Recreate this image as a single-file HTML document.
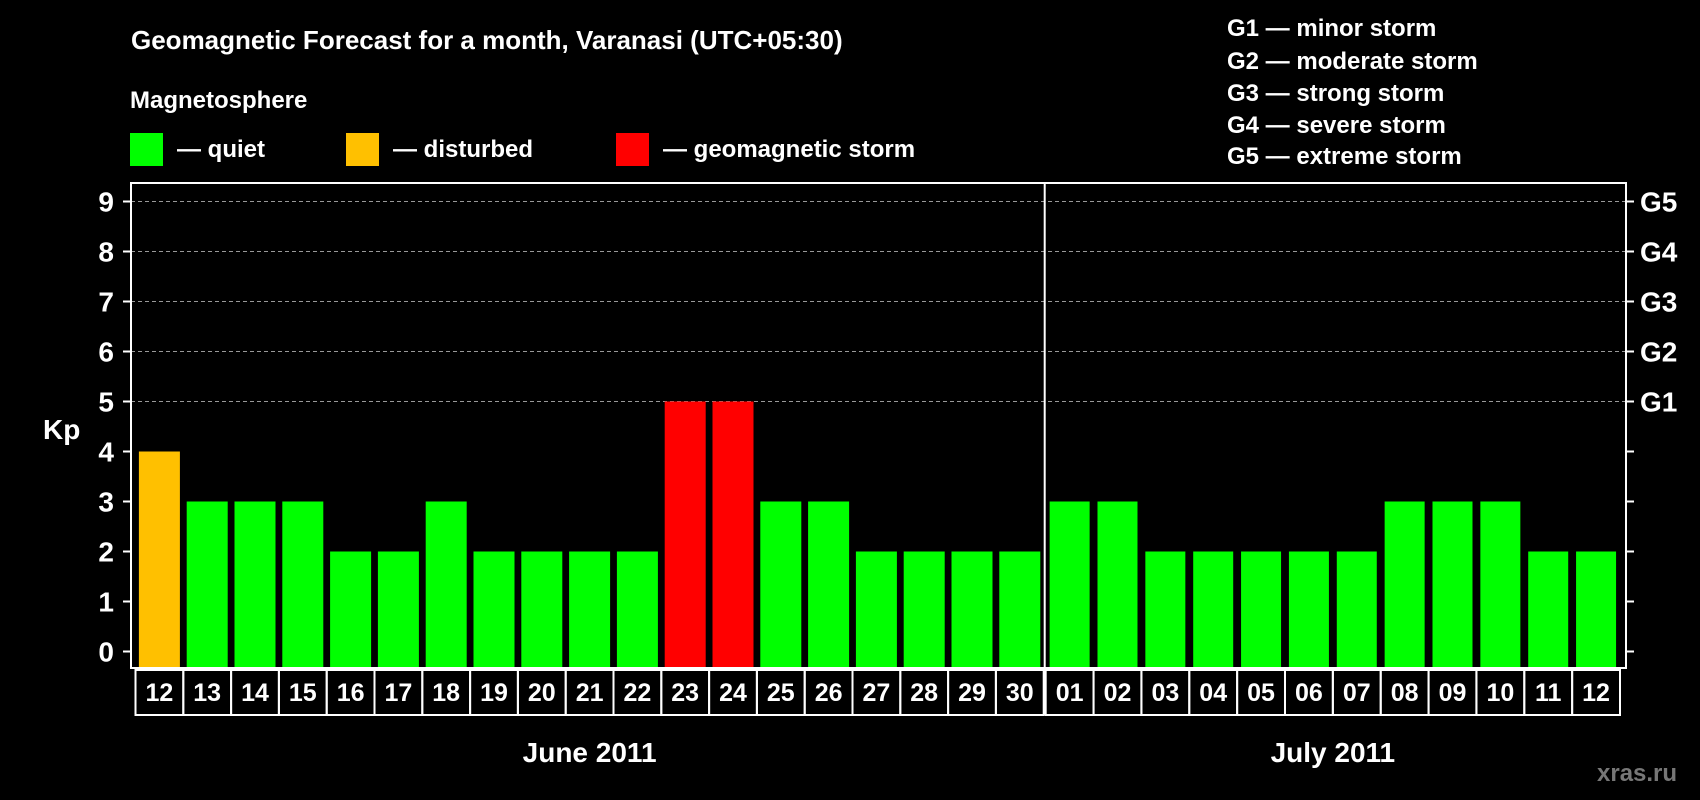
<!DOCTYPE html>
<html><head><meta charset="utf-8"><style>
html,body{margin:0;padding:0;background:#000;}
svg{display:block;font-family:"Liberation Sans",Arial,sans-serif;font-weight:bold;}
</style></head><body>
<svg id="chart" width="1700" height="800" viewBox="0 0 1700 800">
<rect width="1700" height="800" fill="#000"/>
<text x="131" y="49" font-size="26" fill="#fff">Geomagnetic Forecast for a month, Varanasi (UTC+05:30)</text>
<text x="130" y="108" font-size="24" fill="#fff">Magnetosphere</text>
<g>
<rect x="130" y="133" width="33" height="33" fill="#00ff00"/>
<text x="177" y="157" font-size="24" fill="#fff">— quiet</text>
<rect x="346" y="133" width="33" height="33" fill="#ffc000"/>
<text x="393" y="157" font-size="24" fill="#fff">— disturbed</text>
<rect x="616" y="133" width="33" height="33" fill="#ff0000"/>
<text x="663" y="157" font-size="24" fill="#fff">— geomagnetic storm</text>
</g>
<g font-size="24" fill="#fff">
<text x="1227" y="36">G1 — minor storm</text>
<text x="1227" y="69">G2 — moderate storm</text>
<text x="1227" y="101">G3 — strong storm</text>
<text x="1227" y="133">G4 — severe storm</text>
<text x="1227" y="164">G5 — extreme storm</text>
</g>
<text x="43" y="439" font-size="28" fill="#fff">Kp</text>
<g id="plot"></g>
<text x="1597" y="781" font-size="24" fill="#777">xras.ru</text>
</svg>
<script>
const juneDays = ["12","13","14","15","16","17","18","19","20","21","22","23","24","25","26","27","28","29","30"];
const juneKp = [4,3,3,3,2,2,3,2,2,2,2,5,5,3,3,2,2,2,2];
const julyDays = ["01","02","03","04","05","06","07","08","09","10","11","12"];
const julyKp = [3,3,2,2,2,2,2,3,3,3,2,2];
const yTicks = [0,1,2,3,4,5,6,7,8,9];
const gLabels = ["G1","G2","G3","G4","G5"];
const gLevels = [5,6,7,8,9];
const monthLabels = ["June 2011","July 2011"];

const NS="http://www.w3.org/2000/svg";
const plot=document.getElementById('plot');
const L=131,T=183,R=1626,B=668;
const y0=651.5,unit=50;
const y=v=>y0-v*unit;
const juneX0=135.5,juneW=47.8,juneEnd=juneX0+juneDays.length*juneW;
const julyX0=juneEnd+2,julyW=(1620-julyX0)/julyDays.length;
function mk(tag,attrs){const e=document.createElementNS(NS,tag);for(const k in attrs)e.setAttribute(k,attrs[k]);plot.appendChild(e);return e;}
function color(v){return v>=5?"#ff0000":(v>=4?"#ffc000":"#00ff00");}

// gridlines
gLevels.forEach(v=>{
  const g=mk('line',{x1:L,x2:R,y1:y(v),y2:y(v),stroke:"#999","stroke-width":1,"stroke-dasharray":"4,3"});
  
  
});
// ticks
yTicks.forEach(v=>{
  const t1=mk('line',{x1:L-8,x2:L,y1:y(v),y2:y(v),stroke:"#fff","stroke-width":2});
  
  
  const t2=mk('line',{x1:R,x2:R+8,y1:y(v),y2:y(v),stroke:"#fff","stroke-width":2});
  
  
  const tx=mk('text',{x:114,y:y(v)+10,"font-size":28,fill:"#fff","text-anchor":"end"});
  tx.textContent=v;
  
  
});
gLevels.forEach((v,i)=>{
  const tx=mk('text',{x:1640,y:y(v)+10,"font-size":28,fill:"#fff"});
  tx.textContent=gLabels[i];
  
  
});
function drawMonth(days,vals,x0,w,bw,mi){
  days.forEach((d,i)=>{
    const x=x0+i*w;
    const b=mk('rect',{x:x+(w-bw)/2,y:y(vals[i]),width:bw,height:B-y(vals[i]),fill:color(vals[i])});
    
    
    const bx=mk('rect',{x:x,y:670,width:w,height:45,fill:"none",stroke:"#fff","stroke-width":2});
    
    
    const t=mk('text',{x:x+w/2,y:701,"font-size":25,fill:"#fff","text-anchor":"middle"});
    t.textContent=d;
    
    
  });
  const m=mk('text',{x:x0+days.length*w/2,y:762,"font-size":28,fill:"#fff","text-anchor":"middle"});
  m.textContent=monthLabels[mi];
  
  
}
drawMonth(juneDays,juneKp,juneX0,juneW,41,0);
drawMonth(julyDays,julyKp,julyX0,julyW,40,1);
const fr=mk('rect',{x:L,y:T,width:R-L,height:B-T,fill:"none",stroke:"#fff","stroke-width":2});


const dv=mk('line',{x1:juneEnd+1,x2:juneEnd+1,y1:T,y2:715,stroke:"#fff","stroke-width":2});


</script>
</body></html>
